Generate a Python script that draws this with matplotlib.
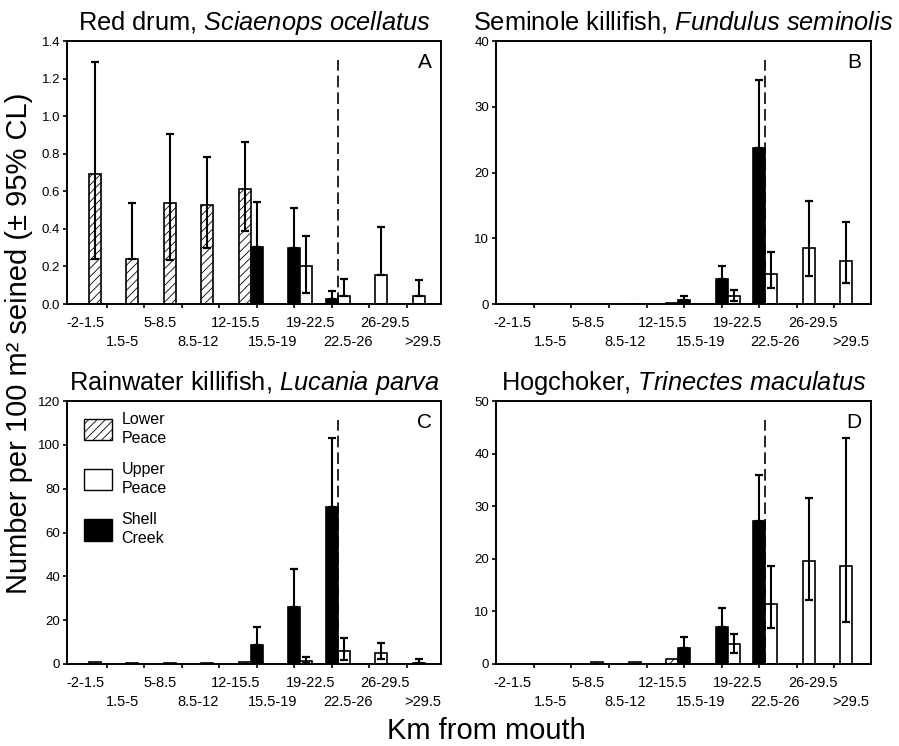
import numpy as np
import matplotlib
matplotlib.use('Agg')
import matplotlib.pyplot as plt
from matplotlib.patches import Patch

plt.rcParams['font.family'] = ['Liberation Sans', 'DejaVu Sans']
plt.rcParams['mathtext.fontset'] = 'custom'
plt.rcParams['mathtext.rm'] = 'Liberation Sans'
plt.rcParams['mathtext.it'] = 'Liberation Sans:italic'
plt.rcParams['hatch.linewidth'] = 0.6

nan = np.nan

# km-from-mouth category labels (as printed under the axes)
km_labels = ['-2-1.5', '1.5-5', '5-8.5', '8.5-12', '12-15.5',
             '15.5-19', '19-22.5', '22.5-26', '26-29.5', '>29.5']
groups = np.arange(9)  # bar groups (tick marks)

# A - Red drum
a_lower = [0.69, 0.24, 0.535, 0.525, 0.61, 0, 0, 0, 0]
a_lower_lo = [0.24, nan, 0.235, 0.30, 0.39, nan, nan, nan, nan]
a_lower_hi = [1.29, 0.535, 0.905, 0.785, 0.86, nan, nan, nan, nan]
a_shell = [0, 0, 0, 0, 0.305, 0.30, 0.025, 0, 0]
a_shell_hi = [nan, nan, nan, nan, 0.545, 0.51, 0.07, nan, nan]
a_upper = [0, 0, 0, 0, 0, 0.20, 0.045, 0.155, 0.04]
a_upper_lo = [nan, nan, nan, nan, nan, 0.06, nan, nan, nan]
a_upper_hi = [nan, nan, nan, nan, nan, 0.36, 0.133, 0.41, 0.128]

# B - Seminole killifish
b_lower = [0, 0, 0, 0.05, 0.15, 0, 0, 0, 0]
b_lower_lo = [nan] * 9
b_lower_hi = [nan] * 9
b_shell = [0, 0, 0, 0, 0.6, 3.75, 23.7, 0, 0]
b_shell_hi = [nan, nan, nan, nan, 1.27, 5.85, 34.0, nan, nan]
b_upper = [0, 0, 0, 0, 0, 1.27, 4.6, 8.45, 6.55]
b_upper_lo = [nan, nan, nan, nan, nan, 0.5, 2.5, 4.2, 3.2]
b_upper_hi = [nan, nan, nan, nan, nan, 2.15, 7.9, 15.6, 12.45]

# C - Rainwater killifish
c_lower = [0.7, 0.3, 0.3, 0.6, 1.0, 0, 0, 0, 0]
c_lower_lo = [nan] * 9
c_lower_hi = [nan] * 9
c_shell = [0, 0, 0, 0, 8.7, 26.2, 71.8, 0, 0]
c_shell_hi = [nan, nan, nan, nan, 16.9, 43.3, 103.0, nan, nan]
c_upper = [0, 0, 0, 0, 0, 1.5, 6.1, 4.9, 0.6]
c_upper_lo = [nan, nan, nan, nan, nan, 0.3, 1.8, 2.4, nan]
c_upper_hi = [nan, nan, nan, nan, nan, 3.0, 11.7, 9.4, 2.1]

# D - Hogchoker
d_lower = [0, 0, 0.3, 0.45, 0.95, 0, 0, 0, 0]
d_lower_lo = [nan] * 9
d_lower_hi = [nan] * 9
d_shell = [0, 0, 0, 0, 3.1, 7.1, 27.2, 0, 0]
d_shell_hi = [nan, nan, nan, nan, 5.2, 10.6, 35.9, nan, nan]
d_upper = [0, 0, 0, 0, 0, 3.75, 11.5, 19.6, 18.7]
d_upper_lo = [nan, nan, nan, nan, nan, 2.15, 6.9, 12.2, 7.9]
d_upper_hi = [nan, nan, nan, nan, nan, 5.7, 18.7, 31.6, 42.9]

titles = [r'Red drum, $\it{Sciaenops\ ocellatus}$',
          r'Seminole killifish, $\it{Fundulus\ seminolis}$',
          r'Rainwater killifish, $\it{Lucania\ parva}$',
          r'Hogchoker, $\it{Trinectes\ maculatus}$']
letters = ['A', 'B', 'C', 'D']
yticks = [np.arange(0, 1.41, 0.2), np.arange(0, 41, 10),
          np.arange(0, 121, 20), np.arange(0, 51, 10)]

panels = [
    (a_lower, a_lower_lo, a_lower_hi, a_shell, a_shell_hi, a_upper, a_upper_lo, a_upper_hi),
    (b_lower, b_lower_lo, b_lower_hi, b_shell, b_shell_hi, b_upper, b_upper_lo, b_upper_hi),
    (c_lower, c_lower_lo, c_lower_hi, c_shell, c_shell_hi, c_upper, c_upper_lo, c_upper_hi),
    (d_lower, d_lower_lo, d_lower_hi, d_shell, d_shell_hi, d_upper, d_upper_lo, d_upper_hi),
]

W, H = 899, 746
fig = plt.figure(figsize=(W / 100, H / 100), dpi=100)
rects = [(67, 41, 441, 304), (496, 41, 871, 304),
         (67, 401, 441, 664), (496, 401, 871, 664)]
xlims = [(-1.06, 8.92), (-1.01, 8.98), (-1.06, 8.92), (-1.01, 8.98)]

bw = 0.32
styles = [dict(facecolor='white', hatch='////'),   # Lower Peace
          dict(facecolor='black'),                 # Shell Creek
          dict(facecolor='white')]                 # Upper Peace
offsets = [-bw, 0, bw]


def draw_series(ax, x, mean, lo, hi, style):
    mean = np.array(mean, float)
    lo = np.array(lo, float)
    hi = np.array(hi, float)
    m = mean > 0
    ax.bar(x[m], mean[m], width=bw, edgecolor='black', linewidth=1.2,
           zorder=2, **style)
    e = ~np.isnan(hi)
    if e.any():
        lo_err = np.where(np.isnan(lo), 0, mean - lo)[e]
        hi_err = (hi - mean)[e]
        ax.errorbar(x[e], mean[e], yerr=[lo_err, hi_err], fmt='none',
                    ecolor='black', elinewidth=1.5, capsize=3, capthick=1.6,
                    zorder=3)


for k in range(4):
    l, t, r, b = rects[k]
    ax = fig.add_axes([l / W, 1 - b / H, (r - l) / W, (b - t) / H])
    lower, lower_lo, lower_hi, shell, shell_hi, upper, upper_lo, upper_hi = panels[k]
    draw_series(ax, groups + offsets[0], lower, lower_lo, lower_hi, styles[0])
    draw_series(ax, groups + offsets[1], shell, [nan] * 9, shell_hi, styles[1])
    draw_series(ax, groups + offsets[2], upper, upper_lo, upper_hi, styles[2])

    ax.axvline(6 + bw / 2, ymin=0, ymax=0.928, color='black', lw=1.2,
               dashes=(7, 3), zorder=4)

    ax.set_xlim(*xlims[k])
    ax.set_ylim(yticks[k][0], yticks[k][-1])
    ax.set_yticks(yticks[k])
    if k == 0:
        ax.set_yticklabels(['%.1f' % v for v in yticks[k]])
    ax.set_xticks(groups)
    ax.set_xticklabels([])
    ax.tick_params(direction='out', length=3, width=1.2, labelsize=9.5, pad=2)
    for s in ax.spines.values():
        s.set_linewidth(1.4)

    for i, lab in enumerate(km_labels):
        yy = -0.072 if i % 2 == 0 else -0.1445
        ax.text(i - 0.57, yy, lab, transform=ax.get_xaxis_transform(),
                ha='center', va='center', fontsize=10.5)

    ax.set_title(titles[k], fontsize=18.3, pad=8)
    ax.text(0.975, 0.955, letters[k], transform=ax.transAxes,
            ha='right', va='top', fontsize=15)

    if k == 2:
        handles = [Patch(facecolor='white', edgecolor='black', hatch='////'),
                   Patch(facecolor='white', edgecolor='black'),
                   Patch(facecolor='black', edgecolor='black')]
        leg = ax.legend(handles, ['Lower\nPeace', 'Upper\nPeace', 'Shell\nCreek'],
                        loc='upper left', bbox_to_anchor=(0.045, 0.96),
                        frameon=False, fontsize=11.5, handlelength=1.75,
                        handleheight=1.7, handletextpad=0.6, labelspacing=1.0,
                        borderpad=0, borderaxespad=0)
        for txt in leg.get_texts():
            txt.set_linespacing(1.35)

fig.text(0.021, 0.54, 'Number per 100 m² seined (± 95% CL)', rotation=90,
         ha='center', va='center', fontsize=21)
fig.text(486 / W, 1 - 731 / H, 'Km from mouth', ha='center', va='center',
         fontsize=21)

fig.savefig('out.png', dpi=100)
